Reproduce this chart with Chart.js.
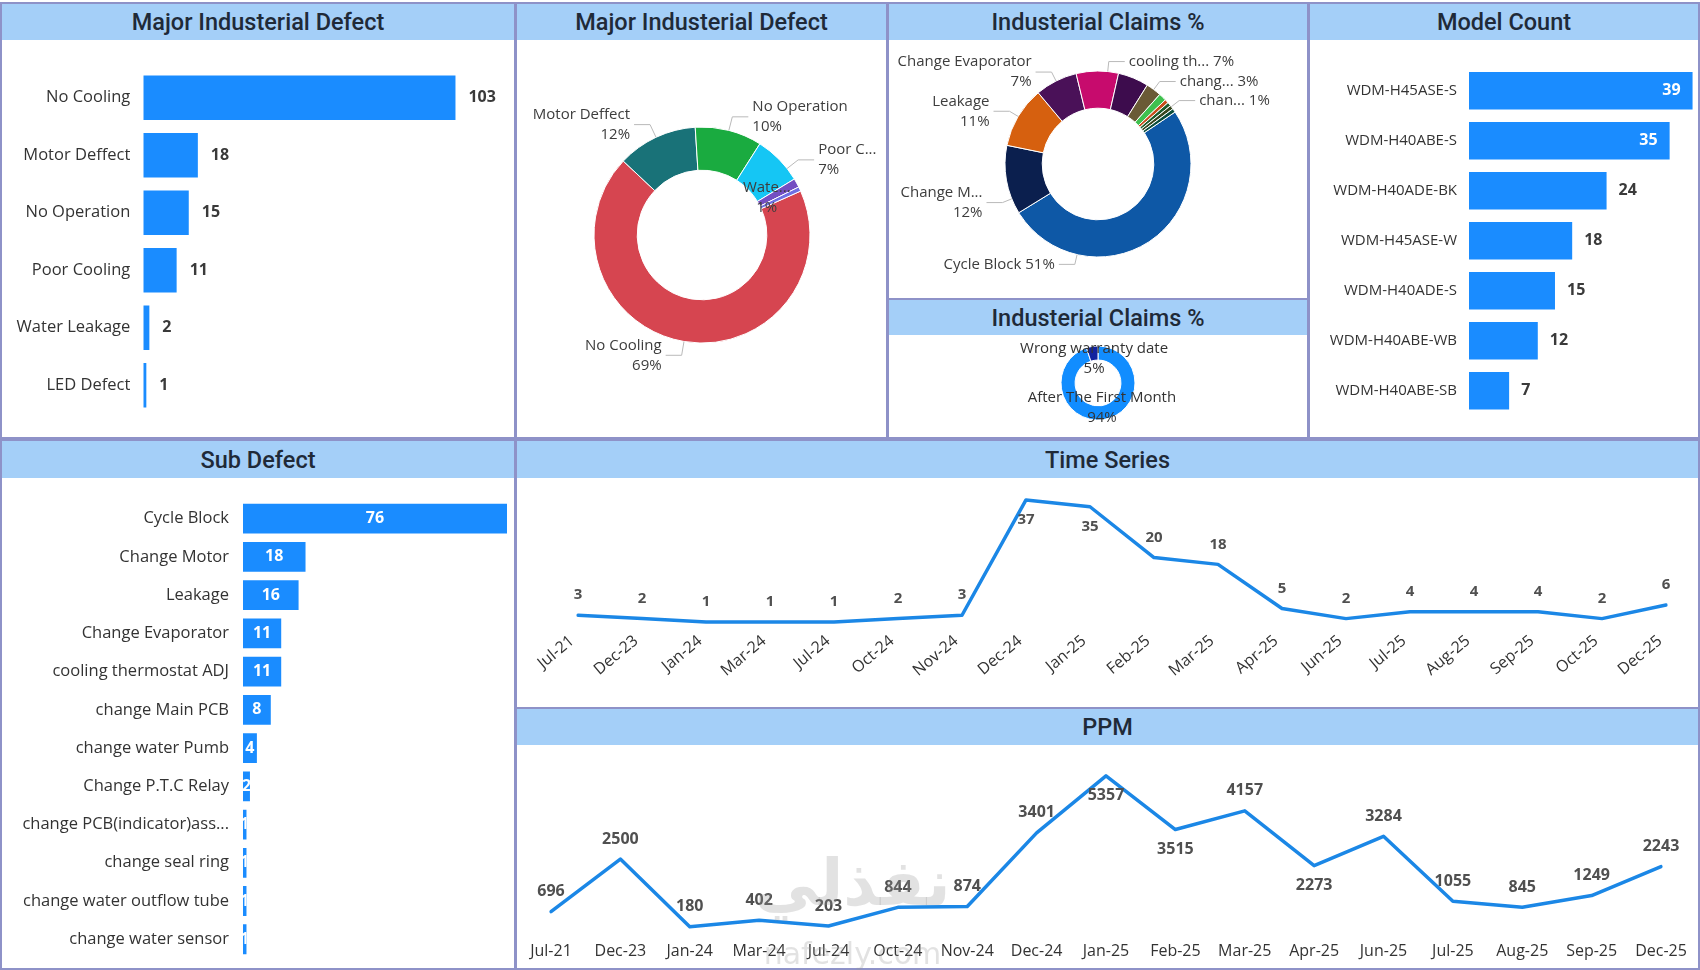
<!DOCTYPE html>
<html>
<head>
<meta charset="utf-8">
<title>Industerial Defects Dashboard</title>
<script src="https://cdn.jsdelivr.net/npm/chart.js@4.4.1/dist/chart.umd.min.js"></script>
<style>
  html, body { margin: 0; padding: 0; background: #fff; }
  body { width: 1700px; height: 970px; position: relative; overflow: hidden; font-family: 'Open Sans', sans-serif; }
  .panel { position: absolute; box-sizing: border-box; border: 2px solid #8e92c8; background: #fff; }
  .hdr { position: absolute; background: #a4cff8; color: #1f2a38; font-family: Roboto, sans-serif;
         font-weight: 500; font-size: 23.5px; display: flex; align-items: center; justify-content: center; }
  canvas { position: absolute; }
  .wm { position: absolute; color: rgba(150, 150, 150, 0.28); pointer-events: none; text-align: center; }
</style>
</head>
<body>

<div class="panel" style="left:0;top:2px;width:516px;height:437px"></div>
<div class="panel" style="left:515px;top:2px;width:373px;height:437px"></div>
<div class="panel" style="left:887px;top:2px;width:422px;height:298px"></div>
<div class="panel" style="left:887px;top:298px;width:422px;height:141px"></div>
<div class="panel" style="left:1308px;top:2px;width:392px;height:437px"></div>
<div class="panel" style="left:0;top:439px;width:516px;height:531px"></div>
<div class="panel" style="left:515px;top:439px;width:1185px;height:270px"></div>
<div class="panel" style="left:515px;top:707px;width:1185px;height:263px"></div>

<div class="hdr" style="left:2px;top:4px;width:512px;height:36px">Major Industerial Defect</div>
<div class="hdr" style="left:517px;top:4px;width:369px;height:36px">Major Industerial Defect</div>
<div class="hdr" style="left:889px;top:4px;width:418px;height:36px">Industerial Claims %</div>
<div class="hdr" style="left:889px;top:300px;width:418px;height:35px">Industerial Claims %</div>
<div class="hdr" style="left:1310px;top:4px;width:388px;height:36px">Model Count</div>
<div class="hdr" style="left:2px;top:441px;width:512px;height:37px">Sub Defect</div>
<div class="hdr" style="left:517px;top:441px;width:1181px;height:37px">Time Series</div>
<div class="hdr" style="left:517px;top:709px;width:1181px;height:36px">PPM</div>

<canvas id="defectBars" width="511" height="395" style="left:2px;top:41px"></canvas>
<canvas id="defectDonut" width="367" height="395" style="left:518px;top:41px"></canvas>
<canvas id="claimsDonut" width="418" height="256" style="left:889px;top:41px"></canvas>
<canvas id="warrantyDonut" width="418" height="101" style="left:889px;top:336px"></canvas>
<canvas id="modelBars" width="388" height="395" style="left:1310px;top:41px"></canvas>
<canvas id="subDefectBars" width="511" height="489" style="left:2px;top:479px"></canvas>
<canvas id="seriesLine" width="1180" height="227" style="left:518px;top:479px"></canvas>
<canvas id="ppmLine" width="1180" height="222" style="left:518px;top:746px"></canvas>

<div class="wm" style="left:740px;top:846px;width:225px;font:bold 64px 'DejaVu Sans', sans-serif">نفذلي</div>
<div class="wm" style="left:740px;top:936px;width:225px;font:30px 'DejaVu Sans', sans-serif">nafezly.com</div>

<script>
// ---- data ----
const defectNames = ['No Cooling', 'Motor Deffect', 'No Operation', 'Poor Cooling', 'Water Leakage', 'LED Defect'];
const defectCounts = [103, 18, 15, 11, 2, 1];
const defectSliceText = [['No Cooling', '69%'], ['Motor Deffect', '12%'], ['No Operation', '10%'], ['Poor C...', '7%'], ['Wate...', '1%'], null];

const subDefectNames = ['Cycle Block', 'Change Motor', 'Leakage', 'Change Evaporator', 'cooling thermostat ADJ',
  'change Main PCB', 'change water Pumb', 'Change P.T.C Relay', 'change PCB(indicator)ass...',
  'change seal ring', 'change water outflow tube', 'change water sensor'];
const subDefectCounts = [76, 18, 16, 11, 11, 8, 4, 2, 1, 1, 1, 1];
const claimSliceText = [['Cycle Block 51%'], ['Change M...', '12%'], ['Leakage', '11%'], ['Change Evaporator', '7%'],
  ['cooling th... 7%'], null, ['chang... 3%'], ['chan... 1%'], null, null, null, null];

const warrantyNames = ['After The First Month', 'Wrong warranty date'];
const warrantyShare = [94, 5];
const warrantySliceText = [['After The First Month', '94%'], ['Wrong warranty date', '5%']];

const modelNames = ['WDM-H45ASE-S', 'WDM-H40ABE-S', 'WDM-H40ADE-BK', 'WDM-H45ASE-W', 'WDM-H40ADE-S', 'WDM-H40ABE-WB', 'WDM-H40ABE-SB'];
const modelCounts = [39, 35, 24, 18, 15, 12, 7];

const seriesMonths = ['Jul-21', 'Dec-23', 'Jan-24', 'Mar-24', 'Jul-24', 'Oct-24', 'Nov-24', 'Dec-24', 'Jan-25',
  'Feb-25', 'Mar-25', 'Apr-25', 'Jun-25', 'Jul-25', 'Aug-25', 'Sep-25', 'Oct-25', 'Dec-25'];
const seriesCounts = [3, 2, 1, 1, 1, 2, 3, 37, 35, 20, 18, 5, 2, 4, 4, 4, 2, 6];

const ppmMonths = ['Jul-21', 'Dec-23', 'Jan-24', 'Mar-24', 'Jul-24', 'Oct-24', 'Nov-24', 'Dec-24', 'Jan-25',
  'Feb-25', 'Mar-25', 'Apr-25', 'Jun-25', 'Jul-25', 'Aug-25', 'Sep-25', 'Dec-25'];
const ppmValues = [696, 2500, 180, 402, 203, 844, 874, 3401, 5357, 3515, 4157, 2273, 3284, 1055, 845, 1249, 2243];

// ---- styles ----
const BLUE = '#1a8cff';
const LINE_BLUE = '#1b87e6';
const defectColors = ['#d64550', '#197278', '#1aab40', '#15c6f4', '#744ec2', '#6f6fe3'];
const claimColors = ['#0e58a6', '#0b1f4e', '#d6600f', '#4a1158', '#c70b6d', '#3d0c4d', '#6a5a36', '#3fc04e',
  '#c84d1b', '#1d5c2c', '#36461e', '#0b4d3b'];
const warrantyColors = ['#118dff', '#12239e'];

Chart.defaults.font.family = "'Open Sans', sans-serif";
Chart.defaults.color = '#333';

// value labels next to / inside horizontal bars
function barValues(cfg) {
  return {
    id: 'barValues',
    afterDatasetsDraw(chart) {
      const ctx = chart.ctx;
      const bars = chart.getDatasetMeta(0).data;
      const vals = chart.data.datasets[0].data;
      const max = chart.scales.x.max;
      ctx.save();
      ctx.font = "bold 16px 'Open Sans'";
      ctx.textBaseline = 'middle';
      bars.forEach((b, i) => {
        const p = b.getProps(['x', 'y', 'base', 'height'], true);
        const txt = String(vals[i]);
        let where = cfg.mode;
        if (where === 'auto') where = vals[i] / max > 0.8 ? 'end' : 'outside';
        if (where === 'outside') {
          ctx.fillStyle = '#3a3a3a';
          ctx.textAlign = 'left';
          ctx.fillText(txt, p.x + cfg.gap, p.y);
        } else if (where === 'end') {
          ctx.fillStyle = '#fff';
          ctx.textAlign = 'right';
          ctx.fillText(txt, p.x - cfg.gap, p.y);
        } else {
          ctx.save();
          ctx.beginPath();
          ctx.rect(p.base, p.y - p.height / 2, p.x - p.base, p.height);
          ctx.clip();
          ctx.fillStyle = '#fff';
          ctx.textAlign = 'center';
          ctx.fillText(txt, (p.base + p.x) / 2, p.y);
          ctx.restore();
        }
      });
      ctx.restore();
    }
  };
}

function hbar(id, names, values, o) {
  return new Chart(document.getElementById(id), {
    type: 'bar',
    data: {
      labels: names,
      datasets: [{ data: values, backgroundColor: BLUE, barPercentage: o.bar, categoryPercentage: 1 }]
    },
    options: {
      indexAxis: 'y',
      responsive: false,
      animation: false,
      layout: { padding: o.pad },
      plugins: { legend: { display: false }, tooltip: { enabled: false } },
      scales: {
        x: { display: false, min: 0, max: o.max },
        y: {
          grid: { display: false, drawTicks: false },
          border: { display: false },
          ticks: { color: '#333', padding: o.gap, font: { size: o.fontSize } },
          afterFit(s) {
            s.width = o.axisW;
            s.paddingTop = 0;
            s.paddingBottom = 0;
          }
        }
      }
    },
    plugins: [barValues({ mode: o.labelMode, gap: o.labelGap })]
  });
}

// slice labels with leader lines
function sliceLabels(cfg) {
  return {
    id: 'sliceLabels',
    afterDatasetsDraw(chart) {
      const ctx = chart.ctx;
      const arcs = chart.getDatasetMeta(0).data;
      const lh = 20;
      const elbow = cfg.elbow || 10;
      ctx.save();
      ctx.font = "15px 'Open Sans'";
      ctx.textBaseline = 'middle';
      ctx.lineWidth = 1;
      ctx.strokeStyle = '#b9b9b9';
      cfg.texts.forEach((lines, i) => {
        if (!lines || !arcs[i]) return;
        const p = arcs[i].getProps(['x', 'y', 'startAngle', 'endAngle', 'innerRadius', 'outerRadius'], true);
        const over = cfg.angles && cfg.angles[i] != null;
        const a = over ? (cfg.angles[i] - 90) * Math.PI / 180 : (p.startAngle + p.endAngle) / 2;
        const cos = Math.cos(a), sin = Math.sin(a);
        const mode = (cfg.modes && cfg.modes[i]) || cfg.mode || 'outside';
        ctx.fillStyle = cfg.color || '#3d3d3d';
        if (mode === 'outside') {
          const R = p.outerRadius;
          const ax = p.x + cos * R, ay = p.y + sin * R;
          const ex = p.x + cos * (R + elbow), ey = p.y + sin * (R + elbow);
          const right = cos >= 0;
          const hx = ex + (right ? 16 : -16);
          ctx.beginPath();
          ctx.moveTo(ax, ay);
          ctx.lineTo(ex, ey);
          ctx.lineTo(hx, ey);
          ctx.stroke();
          ctx.textAlign = right ? 'left' : 'right';
          const tx = hx + (right ? 4 : -4);
          const y0 = ey - (lines.length - 1) * lh / 2;
          lines.forEach((t, k) => ctx.fillText(t, tx, y0 + k * lh));
        } else if (mode === 'inner') {
          const ix = p.x + cos * p.innerRadius, iy = p.y + sin * p.innerRadius;
          ctx.textAlign = 'center';
          lines.forEach((t, k) => ctx.fillText(t, ix + 8, iy - 16 + k * lh));
        } else {
          const r = p.outerRadius - 12;
          const ox = p.x + cos * r, oy = p.y + sin * r;
          ctx.textAlign = 'center';
          const y0 = oy - (lines.length - 1) * lh / 2;
          lines.forEach((t, k) => ctx.fillText(t, ox, y0 + k * lh));
        }
      });
      ctx.restore();
    }
  };
}

function donut(id, names, values, colors, o) {
  return new Chart(document.getElementById(id), {
    type: 'doughnut',
    data: {
      labels: names,
      datasets: [{ data: values, backgroundColor: colors, borderColor: '#fff', borderWidth: 1, hoverOffset: 0 }]
    },
    options: {
      responsive: false,
      animation: false,
      rotation: o.rotation,
      radius: o.radius,
      cutout: o.cutout,
      layout: { padding: o.pad },
      plugins: { legend: { display: false }, tooltip: { enabled: false } }
    },
    plugins: [sliceLabels(o.labels)]
  });
}

// point value labels; below the point near the top or at higher valleys
function pointValues(cfg) {
  return {
    id: 'pointValues',
    afterDatasetsDraw(chart) {
      const ctx = chart.ctx;
      const pts = chart.getDatasetMeta(0).data;
      const data = chart.data.datasets[0].data;
      const max = chart.scales.y.max;
      const top = chart.chartArea.top;
      ctx.save();
      ctx.font = cfg.font;
      ctx.fillStyle = '#505050';
      ctx.textAlign = 'center';
      ctx.textBaseline = 'middle';
      pts.forEach((pt, i) => {
        const v = data[i], prev = data[i - 1], next = data[i + 1];
        const valley = (prev === undefined || v < prev) && (next === undefined || v < next);
        const below = pt.y - top < 30 || (valley && v > max * 0.25);
        ctx.fillText(String(v), pt.x, below ? pt.y + 20 : pt.y - 20);
      });
      ctx.restore();
    }
  };
}

function line(id, months, values, o) {
  return new Chart(document.getElementById(id), {
    type: 'line',
    data: {
      labels: months,
      datasets: [{ data: values, borderColor: LINE_BLUE, borderWidth: 3.5, pointRadius: 0,
        tension: 0, borderJoinStyle: 'round', borderCapStyle: 'round', fill: false }]
    },
    options: {
      responsive: false,
      animation: false,
      layout: { padding: o.pad },
      plugins: { legend: { display: false }, tooltip: { enabled: false } },
      scales: {
        x: {
          offset: false,
          grid: { display: false, drawTicks: false },
          border: { display: false },
          ticks: { autoSkip: false, maxRotation: o.rot, minRotation: o.rot, padding: o.tickPad,
            labelOffset: o.labelOffset || 0, color: '#333', font: { size: o.tickSize } },
          afterFit(s) { s.height = o.axisH; }
        },
        y: { display: false, min: 0, max: o.max }
      }
    },
    plugins: [pointValues({ font: o.labelFont })]
  });
}

hbar('defectBars', defectNames, defectCounts, {
  axisW: 141.3, pad: { left: 0, right: 6, top: 28, bottom: 22 }, max: 120,
  bar: 0.77, gap: 13, fontSize: 16.5, labelMode: 'outside', labelGap: 13
});

hbar('modelBars', modelNames, modelCounts, {
  axisW: 159, pad: { left: 0, right: 2, top: 24.7, bottom: 20.3 }, max: 39.6,
  bar: 0.75, gap: 12, fontSize: 15, labelMode: 'auto', labelGap: 12
});

hbar('subDefectBars', subDefectNames, subDefectCounts, {
  axisW: 241, pad: { left: 0, right: 6, top: 20.5, bottom: 9.6 }, max: 76,
  bar: 0.78, gap: 14, fontSize: 16.5, labelMode: 'center', labelGap: 0
});

donut('defectDonut', defectNames, defectCounts, defectColors, {
  rotation: 66, radius: 108, cutout: '60%',
  pad: { left: 69, right: 68, top: 79, bottom: 86 },
  labels: { texts: defectSliceText, modes: { 4: 'inner' }, angles: { 3: 52 }, elbow: 14 }
});

donut('claimsDonut', subDefectNames, subDefectCounts, claimColors, {
  rotation: 56, radius: 93, cutout: '60%',
  pad: { left: 104, right: 104, top: 18, bottom: 28 },
  labels: { texts: claimSliceText, angles: { 0: 193, 1: 248, 4: 6, 7: 52 }, elbow: 10 }
});

donut('warrantyDonut', warrantyNames, warrantyShare, warrantyColors, {
  rotation: 0, radius: 37, cutout: '62%',
  pad: { left: 169, right: 169, top: 7, bottom: 14 },
  labels: { texts: warrantySliceText, mode: 'overlay', color: '#333' }
});

line('seriesLine', seriesMonths, seriesCounts, {
  pad: { left: 60, right: 32, top: 10.8, bottom: 0 }, axisH: 80.6, max: 40,
  rot: 40, tickPad: 6, labelOffset: -6, tickSize: 16, labelFont: "bold 15px 'Open Sans'"
});

line('ppmLine', ppmMonths, ppmValues, {
  pad: { left: 33, right: 37, top: 11.2, bottom: 0 }, axisH: 36.1, max: 6000,
  rot: 0, tickPad: 10, tickSize: 16, labelFont: "bold 16px 'Open Sans'"
});
</script>
</body>
</html>
